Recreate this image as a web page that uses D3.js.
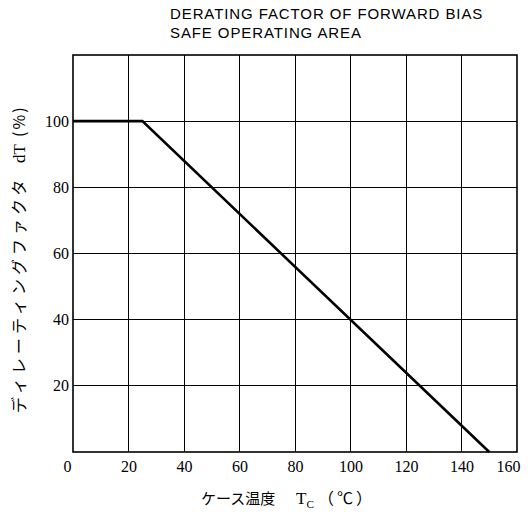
<!DOCTYPE html>
<html>
<head>
<meta charset="utf-8">
<script src="https://cdn.jsdelivr.net/npm/d3@7"></script>
<style>
  body { margin: 0; background: #fff; }
  svg { display: block; }
</style>
</head>
<body>
<svg id="chart" width="530" height="514"></svg>
<script>
// derating curve, case temp (C) vs factor (%)
var caseTemp = [0, 25, 150];
var derating = [100, 100, 0];
var xTicks = [0, 20, 40, 60, 80, 100, 120, 140, 160];
var yTicks = [20, 40, 60, 80, 100];
var yGrid = [20, 40, 60, 80, 100];
var titleLines = ["DERATING FACTOR OF FORWARD BIAS", "SAFE OPERATING AREA"];

var svg = d3.select("#chart");
var margin = {left: 73, right: 13, top: 55, bottom: 62};
var width = 530 - margin.left - margin.right,
    height = 514 - margin.top - margin.bottom;

var x = d3.scaleLinear().domain([0, 160]).range([margin.left, margin.left + width]);
var y = d3.scaleLinear().domain([0, 120]).range([margin.top + height, margin.top]);

var serif = "'Liberation Serif', 'DejaVu Serif', serif";
var jp = "'Noto Sans CJK JP', sans-serif";

// title
svg.append("g")
    .selectAll("text")
    .data(titleLines)
    .enter()
  .append("text")
    .attr("x", 170)
    .attr("y", function (d, i) { return 19 + i * 19; })
    .attr("font-family", "'Liberation Sans', Arial, sans-serif")
    .attr("font-size", 15)
    .attr("letter-spacing", 0.9)
    .text(function (d) { return d; });

// grid
var grid = svg.append("g").attr("stroke", "#000").attr("shape-rendering", "crispEdges");
grid.selectAll("line.vx")
    .data(xTicks.slice(1, -1))
    .enter()
  .append("line")
    .attr("x1", function (d) { return x(d); })
    .attr("x2", function (d) { return x(d); })
    .attr("y1", y(0))
    .attr("y2", y(120))
    .attr("stroke-width", 1);
grid.selectAll("line.hy")
    .data(yGrid)
    .enter()
  .append("line")
    .attr("x1", x(0))
    .attr("x2", x(160))
    .attr("y1", function (d) { return y(d); })
    .attr("y2", function (d) { return y(d); })
    .attr("stroke-width", 1);

// frame
svg.append("rect")
    .attr("x", x(0))
    .attr("y", y(120))
    .attr("width", x(160) - x(0))
    .attr("height", y(0) - y(120))
    .attr("fill", "none")
    .attr("stroke", "#000")
    .attr("stroke-width", 1.6);

// axes, labels only
var xAxis = svg.append("g")
    .attr("transform", "translate(0," + y(0) + ")")
    .call(d3.axisBottom(x).tickValues(xTicks).tickSize(0).tickPadding(9));
var yAxis = svg.append("g")
    .attr("transform", "translate(" + x(0) + ",0)")
    .call(d3.axisLeft(y).tickValues(yTicks).tickSize(0).tickPadding(4));
[xAxis, yAxis].forEach(function (a) {
    a.select(".domain").remove();
    a.selectAll("text")
        .attr("font-family", serif)
        .attr("font-size", 16)
        .attr("fill", "#000");
});
// end labels sit inside the frame edges like the print
xAxis.selectAll(".tick text")
    .attr("dx", function (d) { return d === 0 ? -6 : d === 160 ? -9 : 0; });

// curve
var line = d3.line()
    .x(function (d, i) { return x(caseTemp[i]); })
    .y(function (d) { return y(d); });
svg.append("path")
    .datum(derating)
    .attr("d", line)
    .attr("fill", "none")
    .attr("stroke", "#000")
    .attr("stroke-width", 2.6);

// x title
var xt = svg.append("text")
    .attr("y", 504)
    .attr("font-size", 15);
xt.append("tspan").attr("x", 201).attr("font-family", jp).text("ケース温度");
xt.append("tspan").attr("x", 296).attr("font-family", serif).attr("font-size", 17).text("T");
xt.append("tspan").attr("font-family", serif).attr("font-size", 11).attr("dy", 4).text("C");
xt.append("tspan").attr("x", 318).attr("font-family", jp).attr("font-size", 16).attr("letter-spacing", 3).attr("dy", -4).text("（℃）");

// y title
var yt = svg.append("text")
    .attr("transform", "translate(25,0) rotate(-90)")
    .attr("font-size", 16);
yt.append("tspan").attr("x", -413).attr("font-family", jp).attr("letter-spacing", 4).text("ディレーティングファクタ");
yt.append("tspan").attr("x", -163).attr("font-family", serif).attr("font-size", 17).text("dT");
yt.append("tspan").attr("x", -137).attr("font-family", jp).attr("letter-spacing", 2).text("(%)");
</script>
</body>
</html>
